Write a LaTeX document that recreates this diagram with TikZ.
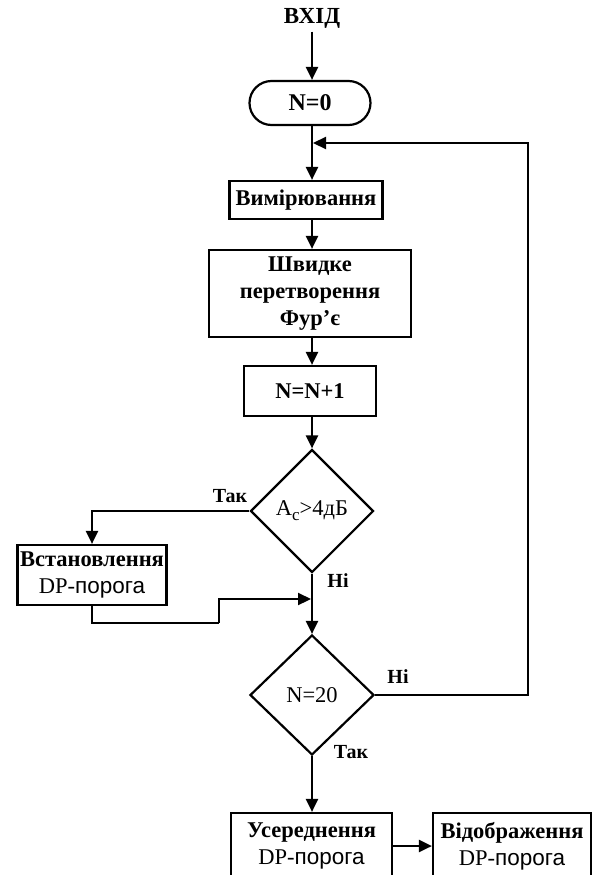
\documentclass[tikz,border=0pt]{standalone}
\usepackage{fontspec}
\setmainfont{Liberation Serif}
\newfontfamily\sansf{Liberation Sans}
\usetikzlibrary{arrows.meta,shapes.geometric,shapes.misc}
\tikzset{
  every node/.style={font=\fontsize{22.5}{26}\selectfont},
  flow/.style={line width=2.2pt,-{Triangle[length=13pt,width=12pt]}},
  plain/.style={line width=2.2pt},
  blk/.style={draw,line width=2.2pt,rectangle,inner sep=2pt,align=center,font=\fontsize{22.5}{27}\selectfont\bfseries},
  term/.style={draw,line width=2.2pt,rounded rectangle,inner sep=2pt,font=\fontsize{24}{26}\selectfont\bfseries},
  dec/.style={draw,line width=2.2pt,diamond,inner sep=0pt,font=\fontsize{22.5}{26}\selectfont},
  lbl/.style={font=\fontsize{20}{22}\selectfont\bfseries,inner sep=1pt}
}
\newcommand{\dpp}{\textmd{DP-{\sansf порога}}}
\begin{document}
\begin{tikzpicture}[x=1pt,y=-1pt]
\clip (0,0) rectangle (598,875);
\node[font=\fontsize{23}{26}\selectfont\bfseries] (inp) at (312,18) {ВХІД};
\node[term,minimum width=125pt,minimum height=44pt] (n0) at (310,103) {N=0};
\node[blk,minimum width=153pt,minimum height=38pt] (meas) at (306,200) {Вимірювання};
\node[blk,minimum width=202pt,minimum height=87pt] (fft) at (310,293.5) {Швидке\\перетворення\\Фур'є};
\node[blk,minimum width=132pt,minimum height=50pt] (inc) at (310,391) {N=N+1};
\node[dec,minimum width=123pt,minimum height=123pt] (d1) at (312,511) {A\raisebox{-0.5ex}{\fontsize{17}{18}\selectfont c}>4дБ};
\node[blk,minimum width=149pt,minimum height=60pt] (setb) at (92,575) {Встановлення\\\dpp};
\node[dec,minimum width=124pt,minimum height=120pt] (d2) at (312,695) {N=20};
\node[blk,minimum width=161pt,minimum height=66pt] (avg) at (311.5,846) {Усереднення\\\dpp};
\node[blk,minimum width=158pt,minimum height=66pt] (disp) at (512,846) {Відображення\\\dpp};
\node[lbl] (t1) at (230,496) {Так};
\node[lbl] (h1) at (338,581) {Ні};
\node[lbl] (h2) at (398,677) {Ні};
\node[lbl] (t2) at (351,752) {Так};
\coordinate (lp) at (528,143);
\coordinate (join) at (313,143);
\coordinate (jg) at (219,623);
\coordinate (jt) at (311,599);
\draw[flow] (inp.south -| d1) -- (n0.north -| d1);
\draw[flow] (n0.south -| d1) -- (meas.north -| d1);
\draw[flow] (meas.south -| d1) -- (fft.north -| d1);
\draw[flow] (fft.south -| d1) -- (inc.north -| d1);
\draw[flow] (inc.south -| d1) -- (d1.north);
\draw[flow] (d1.west) -| (setb.north);
\draw[flow] (d1.south) -- (d2.north);
\draw[plain] (setb.south) |- (jg);
\draw[flow] (jg) |- (jt);
\draw[flow] (d2.east) -| (lp) -- (join);
\draw[flow] (d2.south) -- (avg.north -| d2);
\draw[flow] (avg.east) -- (disp.west);
\end{tikzpicture}
\end{document}
